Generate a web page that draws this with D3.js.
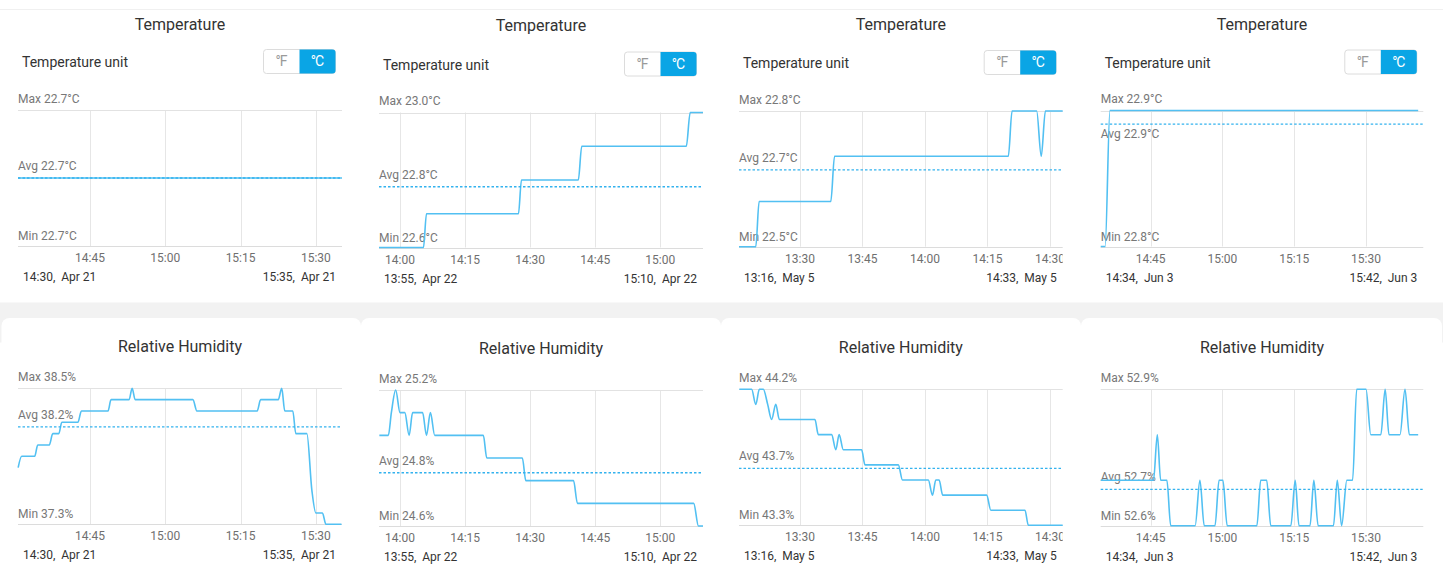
<!DOCTYPE html>
<html><head><meta charset="utf-8">
<script src="https://cdn.jsdelivr.net/npm/d3@7"></script>
<style>
body{margin:0;background:#fff;}
svg{display:block;font-family:Roboto,"Noto Sans",sans-serif;}
</style>
</head><body>
<svg id="chart" width="1443" height="566"></svg>
<script>
// ---------------- DATA ----------------
// time anchors per column (minutes below are offsets from these)
const anchors = ["14:30", "13:55", "13:15", "14:34"];
const dayLabels = ["Apr 21", "Apr 22", "May 5", "Jun 3"];
const startLabels = ["14:30", "13:55", "13:16", "14:34"];
const endLabels = ["15:35", "15:10", "14:33", "15:42"];
const domainStartMin = [0.67, 0.15, 0.37, 0.57];
const domainEndMin = [65.2, 74.85, 78.05, 67.97];

const titles = ["Temperature", "Relative Humidity"];
const unitToggle = ["°F", "°C"];

// Temperature (°C)
const temp0Min = [0.67, 65.2];
const temp0Val = [22.7, 22.7];
const temp1Min = [0.15, 10.4, 11.1, 32.3, 33.0, 46.1, 46.9, 71.0, 71.9, 74.85];
const temp1Val = [22.6, 22.6, 22.7, 22.7, 22.8, 22.8, 22.9, 22.9, 23.0, 23.0];
const temp2Min = [0.37, 4.4, 5.2, 22.4, 23.3, 65.0, 65.9, 71.8, 72.9, 73.9, 78.05];
const temp2Val = [22.5, 22.5, 22.6, 22.6, 22.7, 22.7, 22.8, 22.8, 22.7, 22.8, 22.8];
const temp3Min = [0.57, 1.5, 2.5, 66.9];
const temp3Val = [22.8, 22.8, 22.9, 22.9];
const tempMax = [22.7, 23.0, 22.8, 22.9];
const tempMinV = [22.7, 22.6, 22.5, 22.8];
const tempAvg = [22.7, 22.78, 22.67, 22.89];

// Relative humidity (%)
const hum0Min = [0.7, 1.4, 4.0, 4.6, 6.9, 7.6, 8.8, 9.4, 12.6, 13.3, 18.6, 19.2, 22.8, 23.4, 24.0, 35.5, 36.3, 48.3, 49.0, 52.5, 53.2, 53.8, 55.4, 56.0, 58.2, 59.2, 60.0, 61.3, 62.0, 65.1];
const hum0Val = [37.8, 37.9, 37.9, 38.0, 38.0, 38.1, 38.1, 38.2, 38.2, 38.3, 38.3, 38.4, 38.4, 38.5, 38.4, 38.4, 38.3, 38.3, 38.4, 38.4, 38.5, 38.3, 38.3, 38.1, 38.1, 37.6, 37.4, 37.4, 37.3, 37.3];
const hum1Min = [0.23, 2.3, 3.0, 4.0, 5.0, 6.1, 7.1, 7.9, 10.2, 11.1, 12.0, 13.0, 24.2, 25.0, 33.2, 34.0, 45.0, 45.9, 72.7, 73.8, 74.85];
const hum1Val = [25.0, 25.0, 25.1, 25.2, 25.1, 25.1, 25.0, 25.1, 25.1, 25.0, 25.1, 25.0, 25.0, 24.9, 24.9, 24.8, 24.8, 24.7, 24.7, 24.6, 24.6];
const hum2Min = [0.45, 3.4, 4.4, 5.25, 6.2, 7.25, 8.2, 9.2, 10.05, 18.6, 19.4, 22.6, 23.6, 24.4, 25.4, 29.8, 30.6, 38.6, 39.6, 45.8, 46.8, 47.6, 48.4, 49.25, 59.8, 60.8, 69.0, 69.8, 78.05];
const hum2Val = [44.2, 44.2, 44.1, 44.2, 44.2, 44.1, 44.0, 44.1, 44.0, 44.0, 43.9, 43.9, 43.8, 43.9, 43.8, 43.8, 43.7, 43.7, 43.6, 43.6, 43.5, 43.6, 43.6, 43.5, 43.5, 43.4, 43.4, 43.3, 43.3];
const hum3Min = [0.57, 11.6, 12.4, 13.1, 14.4, 15.2, 20.3, 21.3, 22.2, 24.45, 25.3, 26.1, 27.0, 33.2, 34.0, 35.25, 36.1, 40.3, 41.2, 42.0, 44.3, 45.1, 46.0, 49.2, 50.0, 50.9, 52.0, 53.2, 54.05, 56.0, 57.0, 59.1, 60.0, 60.8, 63.1, 64.15, 65.05, 66.9];
const hum3Val = [52.7, 52.7, 52.8, 52.7, 52.7, 52.6, 52.6, 52.7, 52.6, 52.6, 52.7, 52.7, 52.6, 52.6, 52.7, 52.7, 52.6, 52.6, 52.7, 52.6, 52.6, 52.7, 52.6, 52.6, 52.7, 52.6, 52.7, 52.7, 52.9, 52.9, 52.8, 52.8, 52.9, 52.8, 52.8, 52.9, 52.8, 52.8];
const humMax = [38.5, 25.2, 44.2, 52.9];
const humMinV = [37.3, 24.6, 43.3, 52.6];
const humAvg = [38.16, 24.835, 43.677, 52.68];

// ---------------- LAYOUT ----------------
const W = 1443, H = 566;
const plotX0 = [18, 379, 739, 1100.7];
const plotX1 = [342, 703, 1062.7, 1423.3];
const topRowY0 = [110, 112.5, 111, 110.5];
const topRowH = [136, 135, 135.7, 136];
const botRowY0 = [388.3, 390, 389.3, 389.3];
const botRowH = [136, 136, 136, 136.4];
const cardEdges = [1.5, 361, 721, 1081, 1442];

const LINE = "#52c0f2", AVG = "#33b2ee", BLUE = "#0aa5e5";

const svg = d3.select("#chart");
svg.append("rect").attr("width", W).attr("height", H).attr("fill", "#fff");
svg.append("line").attr("x1", 0).attr("x2", W).attr("y1", 9.5).attr("y2", 9.5)
  .attr("stroke", "#f0f0f0");
svg.append("rect").attr("x", 0).attr("y", 302.5).attr("width", W).attr("height", 40).attr("fill", "#f2f2f2");
for (let i = 0; i < 4; i++) {
  svg.append("rect").attr("x", cardEdges[i]).attr("y", 318)
    .attr("width", cardEdges[i + 1] - cardEdges[i]).attr("height", 270)
    .attr("rx", 8).attr("fill", "#fff");
}

const parseHM = d3.timeParse("%H:%M");
const toDate = (col, m) => new Date(parseHM(anchors[col]).getTime() + m * 60000);

function drawPanel(p) {
  const g = svg.append("g");
  const x0 = plotX0[p.col], x1 = plotX1[p.col];
  const y0 = p.y0, y1 = p.y0 + p.h;
  const x = d3.scaleTime()
    .domain([toDate(p.col, domainStartMin[p.col]), toDate(p.col, domainEndMin[p.col])])
    .range([x0, x1]);
  let lo = p.min, hi = p.max;
  if (hi === lo) { lo -= 1; hi += 1; }
  const y = d3.scaleLinear().domain([lo, hi]).range([y1, y0]);

  // title
  g.append("text").attr("x", (x0 + x1) / 2).attr("y", p.titleY)
    .attr("text-anchor", "middle").attr("font-size", 16).attr("fill", "#333").text(p.title);

  if (p.unitRow) {
    g.append("text").attr("x", x0 + 4).attr("y", y0 - 43)
      .attr("font-size", 14).attr("fill", "#333").text("Temperature unit");
    const bx = x1 - 79, by = y0 - 61, bw = 72, bh = 24;
    g.append("rect").attr("x", bx + 0.5).attr("y", by + 0.5).attr("width", bw).attr("height", bh)
      .attr("rx", 3).attr("fill", "#fff").attr("stroke", "#dcdcdc");
    g.append("path").attr("d",
      `M${bx + bw / 2},${by} H${bx + bw - 3} Q${bx + bw},${by} ${bx + bw},${by + 3} V${by + bh - 3} Q${bx + bw},${by + bh} ${bx + bw - 3},${by + bh} H${bx + bw / 2} Z`)
      .attr("transform", "translate(0.5,0.5)").attr("fill", BLUE);
    g.append("text").attr("x", bx + bw / 4).attr("y", by + 17).attr("text-anchor", "middle")
      .attr("font-size", 14).attr("letter-spacing", -1).attr("fill", "#9a9a9a").text(unitToggle[0]);
    g.append("text").attr("x", bx + 3 * bw / 4).attr("y", by + 17).attr("text-anchor", "middle")
      .attr("font-size", 14).attr("letter-spacing", -1).attr("fill", "#fff").text(unitToggle[1]);
  }

  // grid
  const ticks = x.ticks(d3.timeMinute.every(15));
  g.selectAll(".vg").data(ticks).enter().append("line")
    .attr("x1", d => Math.round(x(d)) + 0.5).attr("x2", d => Math.round(x(d)) + 0.5)
    .attr("y1", y0).attr("y2", y1).attr("stroke", "#e6e6e6");
  g.append("line").attr("x1", x0).attr("x2", x1).attr("y1", Math.round(y0) + 0.5).attr("y2", Math.round(y0) + 0.5)
    .attr("stroke", "#e2e2e2");
  g.append("line").attr("x1", x0).attr("x2", x1).attr("y1", Math.round(y1) + 0.5).attr("y2", Math.round(y1) + 0.5)
    .attr("stroke", "#dcdcdc");

  // tick labels (clipped to plot width)
  const cid = "clip" + p.id;
  svg.append("clipPath").attr("id", cid).append("rect")
    .attr("x", x0 - 30).attr("y", y1).attr("width", x1 - x0 + 30).attr("height", 25);
  const tg = g.append("g").attr("clip-path", `url(#${cid})`);
  tg.selectAll("text").data(ticks).enter().append("text")
    .attr("x", d => x(d)).attr("y", y1 + 16).attr("text-anchor", "middle")
    .attr("font-size", 12).attr("fill", "#6f6f6f").text(d3.timeFormat("%H:%M"));

  // date labels
  g.append("text").attr("x", x0 + 5).attr("y", y1 + 35).attr("font-size", 12).attr("fill", "#333")
    .style("white-space", "pre").text(startLabels[p.col] + ",  " + dayLabels[p.col]);
  g.append("text").attr("x", x1 - 6).attr("y", y1 + 35).attr("font-size", 12).attr("fill", "#333")
    .attr("text-anchor", "end").style("white-space", "pre").text(endLabels[p.col] + ",  " + dayLabels[p.col]);

  // stats labels
  const fmt = v => v.toFixed(1) + p.unit;
  g.append("text").attr("x", x0).attr("y", y0 - 7.5).attr("font-size", 12).attr("fill", "#777").text("Max " + fmt(p.max));
  g.append("text").attr("x", x0).attr("y", y1 - 6).attr("font-size", 12).attr("fill", "#777").text("Min " + fmt(p.min));
  const ay = y(p.avg);
  const avgLabelY = (ay - y0 < 22) ? ay + 14 : ay - 8;
  g.append("text").attr("x", x0).attr("y", avgLabelY).attr("font-size", 12).attr("fill", "#777").text("Avg " + fmt(p.avg));

  // data line
  const data = p.mins.map((m, i) => ({ t: toDate(p.col, m), v: p.vals[i] }));
  const line = d3.line().x(d => x(d.t)).y(d => y(d.v)).curve(d3.curveMonotoneX);
  g.append("path").datum(data).attr("d", line).attr("fill", "none")
    .attr("stroke", LINE).attr("stroke-width", 1.6).attr("stroke-linejoin", "round");

  // average dashed line
  g.append("line").attr("x1", x0).attr("x2", x1).attr("y1", ay).attr("y2", ay)
    .attr("stroke", AVG).attr("stroke-width", 1.3).attr("stroke-dasharray", "2.5,2");
}

const tMins = [temp0Min, temp1Min, temp2Min, temp3Min];
const tVals = [temp0Val, temp1Val, temp2Val, temp3Val];
const hMins = [hum0Min, hum1Min, hum2Min, hum3Min];
const hVals = [hum0Val, hum1Val, hum2Val, hum3Val];
const topTitleY = [29.5, 30.5, 29.5, 29.5];
const botTitleY = [352, 353.5, 352.5, 352.5];

for (let c = 0; c < 4; c++) {
  drawPanel({ id: "t" + c, col: c, title: titles[0], unitRow: true, unit: "°C",
    y0: topRowY0[c], h: topRowH[c], titleY: topTitleY[c],
    mins: tMins[c], vals: tVals[c], max: tempMax[c], min: tempMinV[c], avg: tempAvg[c] });
  drawPanel({ id: "h" + c, col: c, title: titles[1], unitRow: false, unit: "%",
    y0: botRowY0[c], h: botRowH[c], titleY: botTitleY[c],
    mins: hMins[c], vals: hVals[c], max: humMax[c], min: humMinV[c], avg: humAvg[c] });
}
</script>
</body></html>
